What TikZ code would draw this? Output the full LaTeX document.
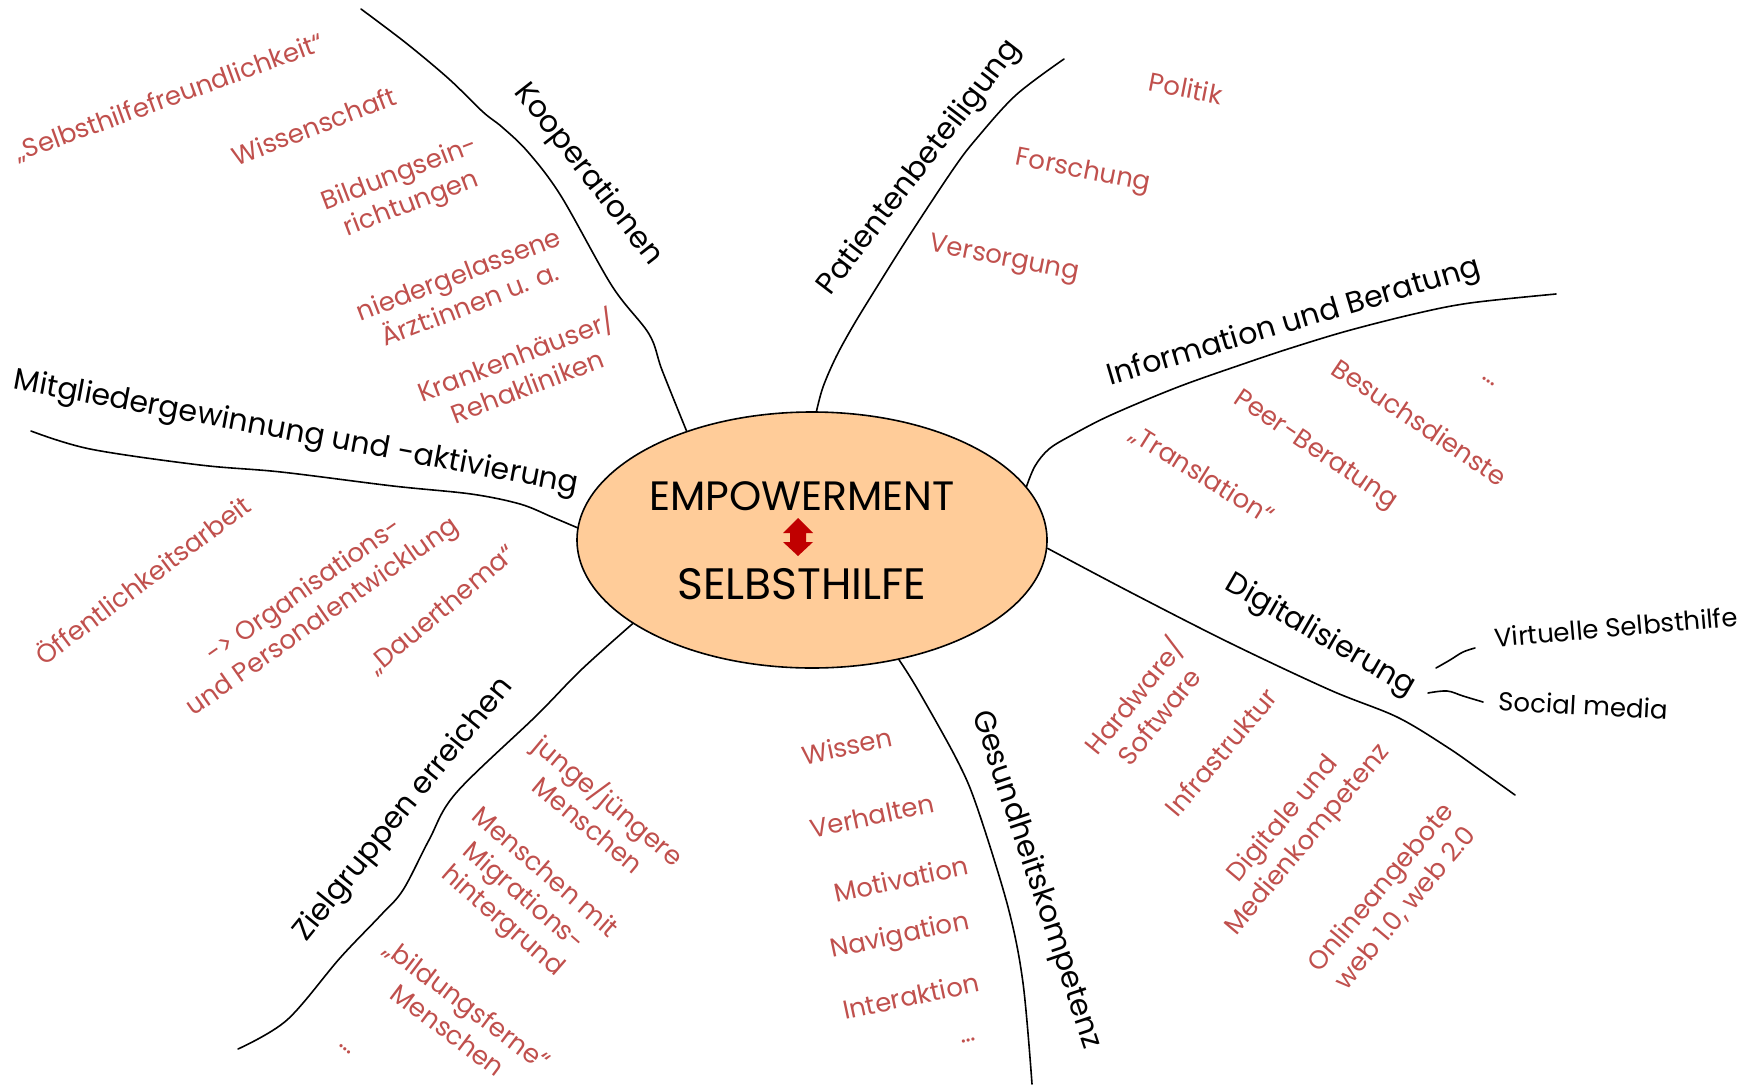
\documentclass[tikz,border=0pt]{standalone}
\usepackage{fontspec}
\setmainfont{Poppins}
\usetikzlibrary{shapes.geometric}
\definecolor{lbl}{RGB}{192,80,77}
\definecolor{fillc}{RGB}{255,204,153}
\definecolor{arr}{RGB}{192,0,0}
\begin{document}
\begin{tikzpicture}[x=1pt,y=-1pt,
  branch/.style={line width=1.6pt, black, line cap=round},
  blab/.style={font=\fontsize{30}{34}\selectfont, text=black, inner sep=0pt},
  slab/.style={font=\fontsize{26}{30}\selectfont, text=black, inner sep=0pt},
  rlab/.style={font=\fontsize{26}{32}\selectfont, text=lbl, align=center, inner sep=0pt},
  ctext/.style={inner sep=0pt, anchor=base}]
\useasboundingbox (0,0) rectangle (1760,1084);

% centre
\node[ellipse, draw, fill=fillc, line width=1.6pt, minimum width=470pt, minimum height=256pt, inner sep=0pt] (E) at (812,540) {};
\node[ctext, font=\fontsize{41}{44}\selectfont] (emp) at (802,510) {EMPOWERMENT};
\node[ctext, font=\fontsize{44}{46}\selectfont] (sel) at (802,599) {SELBSTHILFE};
\fill[arr] (798,518) -- (813,533) -- (806,533) -- (806,542) -- (813,542) -- (798,556)
  -- (783,542) -- (790,542) -- (790,533) -- (783,533) -- cycle;

% branches
\draw[branch] plot[smooth, tension=0.55] coordinates {(E.139) (662,370) (649,334) (612,286) (561,196) (528,152) (502,127) (483,112) (449,79) (406,43) (361,9)};
\draw[branch] plot[smooth, tension=0.55] coordinates {(E.88.2) (823,387) (836,357) (853,326) (875,290) (909,236) (954,168) (977,138) (1016,95) (1064,59)};
\draw[branch] plot[smooth, tension=0.55] coordinates {(E.14.5) (1035,466) (1049,449) (1072,435) (1111,415) (1178,387) (1246,363) (1291,348) (1347,331) (1414,314) (1470,303) (1556,294)};
\draw[branch] plot[smooth, tension=0.55] coordinates {(E.-2.2) (1130,592) (1230,643) (1330,690) (1397,717) (1447,747) (1480,770) (1515,795)};
\draw[branch] plot[smooth, tension=0.55] coordinates {(E.-54.4) (918,690) (957,760) (977,807) (1008,907) (1023,983) (1032,1084)};
\draw[branch] plot[smooth, tension=0.55] coordinates {(E.205.5) (581,670) (536,716) (456,793) (429,840) (403,890) (380,916) (340,958) (287,1020) (238,1049)};
\draw[branch] plot[smooth, tension=0.55] coordinates {(E.177.6) (552,517) (520,504) (471,494) (393,486) (281,472) (200,465) (90,449) (31,431)};

% sub connectors (Digitalisierung)
\draw[branch] plot[smooth, tension=0.6] coordinates {(1436,668) (1450,660) (1463,652) (1475,648)};
\draw[branch] plot[smooth, tension=0.6] coordinates {(1428,693) (1447,691) (1463,696) (1483,702)};

% branch labels
\node[blab, rotate=-52] (kop) at (588,175) {Kooperationen};
\node[blab, rotate=52.5] (pat) at (920,168) {Patientenbeteiligung};
\node[blab, rotate=16.5] (inf) at (1294,323) {Information und Beratung};
\node[blab, rotate=-30] (dig) at (1320,636) {Digitalisierung};
\node[blab, rotate=-71.5] (ges) at (1036,880) {Gesundheitskompetenz};
\node[blab, rotate=51] (ziel) at (404,810) {Zielgruppen erreichen};
\node[blab, rotate=-10.5] (mit) at (296,434) {Mitgliedergewinnung und -aktivierung};
\node[slab, rotate=5] (virt) at (1616,627) {Virtuelle Selbsthilfe};
\node[slab, rotate=-3] (soc) at (1583,705) {Social media};

% Kooperationen items
\node[rlab, rotate=20] (k1) at (169,98) {„Selbsthilfefreundlichkeit“};
\node[rlab, rotate=21] (k2) at (314,126) {Wissenschaft};
\node[rlab, rotate=21] (k3) at (406,190) {Bildungsein-\\richtungen};
\node[rlab, rotate=21] (k4) at (464,289) {niedergelassene\\Ärzt:innen u. a.};
\node[rlab, rotate=21] (k5) at (521,369) {Krankenhäuser/\\Rehakliniken};

% Patientenbeteiligung items
\node[rlab, rotate=-11] (p1) at (1186,88) {Politik};
\node[rlab, rotate=-11] (p2) at (1083,172) {Forschung};
\node[rlab, rotate=-11] (p3) at (1004,260) {Versorgung};

% Information items
\node[rlab, rotate=-32] (i1) at (1202,475) {„Translation“};
\node[rlab, rotate=-34] (i2) at (1315,451) {Peer-Beratung};
\node[rlab, rotate=-34] (i3) at (1420,422) {Besuchsdienste};
\node[rlab, rotate=-34] (i4) at (1489,382) {…};

% Digitalisierung items
\node[rlab, rotate=51] (d1) at (1145,705) {Hardware/\\Software};
\node[rlab, rotate=50] (d2) at (1221,752) {Infrastruktur};
\node[rlab, rotate=50] (d3) at (1296,830) {Digitale und\\Medienkompetenz};
\node[rlab, rotate=50] (d4) at (1393,898) {Onlineangebote\\web 1.0, web 2.0};

% Gesundheitskompetenz items
\node[rlab, rotate=12] (g1) at (847,746) {Wissen};
\node[rlab, rotate=12] (g2) at (872,816) {Verhalten};
\node[rlab, rotate=12] (g3) at (901,879) {Motivation};
\node[rlab, rotate=12] (g4) at (900,937) {Navigation};
\node[rlab, rotate=12] (g5) at (911,996) {Interaktion};
\node[rlab, rotate=12] (g6) at (969,1040) {…};

% Mitglieder items
\node[rlab, rotate=37] (m1) at (142,579) {Öffentlichkeitsarbeit};
\node[rlab, rotate=35] (m2) at (314,605) {-> Organisations-\\und Personalentwicklung};
\node[rlab, rotate=40] (m3) at (442,610) {„Dauerthema“};

% Zielgruppen items
\node[rlab, rotate=-40] (z1) at (600,811) {junge/jüngere\\Menschen};
\node[rlab, rotate=-41] (z2) at (523,898) {Menschen mit\\Migrations-\\hintergrund};
\node[rlab, rotate=-37] (z3) at (458,1017) {„bildungsferne“\\Menschen};
\node[rlab, rotate=-40] (z4) at (345,1049) {…};
\end{tikzpicture}
\end{document}
